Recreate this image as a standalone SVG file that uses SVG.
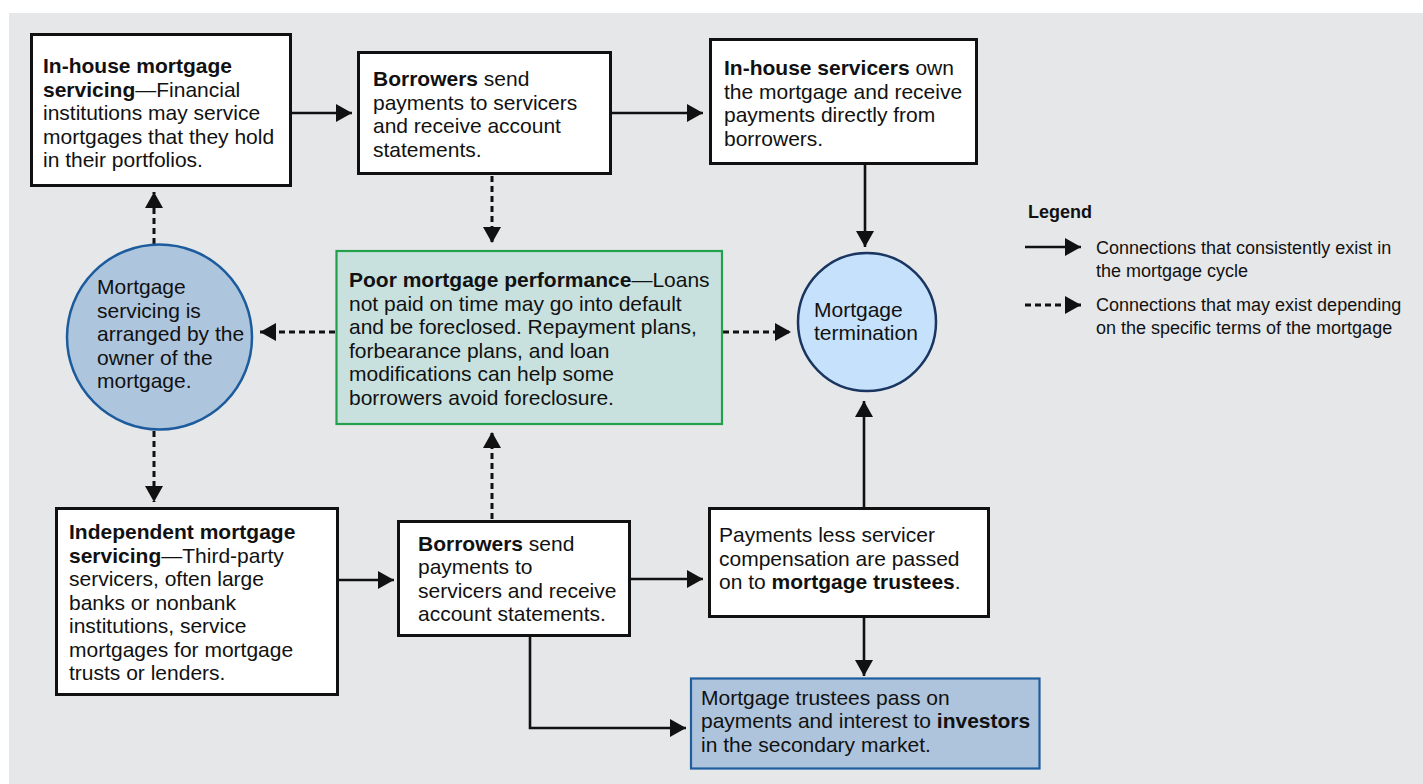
<svg xmlns="http://www.w3.org/2000/svg" width="1423" height="784" viewBox="0 0 1423 784">
<style>
text{font-family:"Liberation Sans",Arial,sans-serif;font-size:21px;fill:#111}
.b{font-weight:bold}
.lg{font-size:18px}
.box{fill:#fff;stroke:#111;stroke-width:3}
.sol{stroke:#111;stroke-width:2.6;fill:none}
.dsh{stroke:#111;stroke-width:3;fill:none;stroke-dasharray:6 4}
</style>
<defs>
<marker id="ah" markerUnits="userSpaceOnUse" markerWidth="17" markerHeight="18" refX="16" refY="9" orient="auto">
<path d="M0,0 L16,9 L0,18 z" fill="#111" stroke="none"/>
</marker>
</defs>
<rect x="9" y="13" width="1414" height="771" fill="#e6e7e9"/>

<g id="connectors">
<line class="sol" x1="292" y1="113" x2="352" y2="113" marker-end="url(#ah)"/>
<line class="sol" x1="612" y1="113" x2="703" y2="113" marker-end="url(#ah)"/>
<line class="sol" x1="865" y1="165" x2="865" y2="247" marker-end="url(#ah)"/>
<line class="dsh" x1="492" y1="176" x2="492" y2="243" marker-end="url(#ah)"/>
<line class="dsh" x1="154" y1="244" x2="154" y2="192" marker-end="url(#ah)"/>
<line class="dsh" x1="154" y1="431" x2="154" y2="502" marker-end="url(#ah)"/>
<line class="dsh" x1="335" y1="332" x2="260" y2="332" marker-end="url(#ah)"/>
<line class="dsh" x1="723" y1="332" x2="791" y2="332" marker-end="url(#ah)"/>
<line class="sol" x1="339" y1="580" x2="394" y2="580" marker-end="url(#ah)"/>
<line class="sol" x1="630" y1="579" x2="703" y2="579" marker-end="url(#ah)"/>
<line class="dsh" x1="492" y1="519" x2="492" y2="432" marker-end="url(#ah)"/>
<polyline class="sol" points="530,637 530,728 686,728" marker-end="url(#ah)"/>
<line class="sol" x1="864" y1="507" x2="864" y2="401" marker-end="url(#ah)"/>
<line class="sol" x1="864" y1="618" x2="864" y2="676" marker-end="url(#ah)"/>
</g>

<g id="inhouse-servicing">
<rect class="box" x="31.5" y="34.5" width="259" height="151"/>
<text x="43" y="73"><tspan class="b">In-house mortgage</tspan></text>
<text x="43" y="96.5"><tspan class="b">servicing</tspan>—Financial</text>
<text x="43" y="120">institutions may service</text>
<text x="43" y="143.5">mortgages that they hold</text>
<text x="43" y="167">in their portfolios.</text>
</g>

<g id="borrowers-top">
<rect class="box" x="358.5" y="52.5" width="252" height="121"/>
<text x="373" y="86"><tspan class="b">Borrowers</tspan> send</text>
<text x="373" y="109.7">payments to servicers</text>
<text x="373" y="133.4">and receive account</text>
<text x="373" y="157">statements.</text>
</g>

<g id="inhouse-servicers">
<rect class="box" x="710.5" y="39.5" width="266" height="124"/>
<text x="724" y="75"><tspan class="b">In-house servicers</tspan> own</text>
<text x="724" y="98.5">the mortgage and receive</text>
<text x="724" y="122">payments directly from</text>
<text x="724" y="145.5">borrowers.</text>
</g>

<g id="servicing-arranged">
<circle cx="159.5" cy="337" r="92.5" fill="#adc5dd" stroke="#1d5c9c" stroke-width="2.5"/>
<text x="97" y="294">Mortgage</text>
<text x="97" y="317.5">servicing is</text>
<text x="97" y="341">arranged by the</text>
<text x="97" y="364.5">owner of the</text>
<text x="97" y="388">mortgage.</text>
</g>

<g id="poor-performance">
<rect x="336.5" y="251" width="385.5" height="173" fill="#c8e1df" stroke="#22a04b" stroke-width="2.2"/>
<text x="349" y="287"><tspan class="b">Poor mortgage performance</tspan>—Loans</text>
<text x="349" y="310.5">not paid on time may go into default</text>
<text x="349" y="334">and be foreclosed. Repayment plans,</text>
<text x="349" y="357.5">forbearance plans, and loan</text>
<text x="349" y="381">modifications can help some</text>
<text x="349" y="404.5">borrowers avoid foreclosure.</text>
</g>

<g id="termination">
<circle cx="867" cy="322" r="69" fill="#c5e1fc" stroke="#1a3560" stroke-width="2.5"/>
<text x="814" y="317">Mortgage</text>
<text x="814" y="340">termination</text>
</g>

<g id="legend">
<text x="1028" y="218" class="lg b">Legend</text>
<line class="sol" x1="1025" y1="247" x2="1081" y2="247" marker-end="url(#ah)"/>
<text x="1096" y="254" class="lg">Connections that consistently exist in</text>
<text x="1096" y="277" class="lg">the mortgage cycle</text>
<line class="dsh" x1="1025" y1="305" x2="1081" y2="305" marker-end="url(#ah)"/>
<text x="1096" y="311" class="lg">Connections that may exist depending</text>
<text x="1096" y="334" class="lg">on the specific terms of the mortgage</text>
</g>

<g id="independent-servicing">
<rect class="box" x="56.5" y="508.5" width="281" height="186"/>
<text x="69" y="539"><tspan class="b">Independent mortgage</tspan></text>
<text x="69" y="562.5"><tspan class="b">servicing</tspan>—Third-party</text>
<text x="69" y="586">servicers, often large</text>
<text x="69" y="609.5">banks or nonbank</text>
<text x="69" y="633">institutions, service</text>
<text x="69" y="656.5">mortgages for mortgage</text>
<text x="69" y="680">trusts or lenders.</text>
</g>

<g id="borrowers-bottom">
<rect class="box" x="398.5" y="521.5" width="231" height="114"/>
<text x="418" y="550.5"><tspan class="b">Borrowers</tspan> send</text>
<text x="418" y="574">payments to</text>
<text x="418" y="597.5">servicers and receive</text>
<text x="418" y="621">account statements.</text>
</g>

<g id="payments-less">
<rect class="box" x="709.5" y="508.5" width="279" height="108"/>
<text x="719" y="542">Payments less servicer</text>
<text x="719" y="565.5">compensation are passed</text>
<text x="719" y="589">on to <tspan class="b">mortgage trustees</tspan>.</text>
</g>

<g id="trustees">
<rect x="691" y="678.5" width="348.5" height="90" fill="#adc4dc" stroke="#1f5e9e" stroke-width="2.2"/>
<text x="701" y="704.5">Mortgage trustees pass on</text>
<text x="701" y="728">payments and interest to <tspan class="b">investors</tspan></text>
<text x="701" y="751.5">in the secondary market.</text>
</g>
</svg>
